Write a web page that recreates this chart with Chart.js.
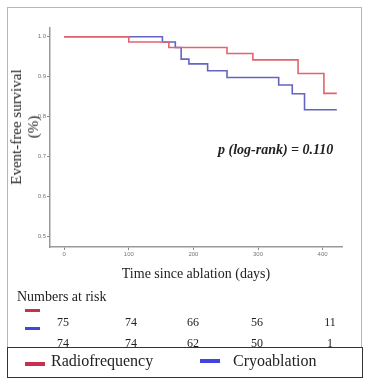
<!DOCTYPE html>
<html>
<head>
<meta charset="utf-8">
<script src="https://cdn.jsdelivr.net/npm/chart.js@4/dist/chart.umd.min.js"></script>
<style>
  body { margin: 0; background: #fff; width: 369px; height: 387px; position: relative; overflow: hidden; font-family: "Liberation Serif", "DejaVu Serif", serif; color: #222; }
  #frame { position: absolute; left: 7px; top: 7px; width: 355px; height: 371px; border: 1.5px solid #9fbcdb; box-sizing: border-box; }
  #wrap { position: absolute; left: 6px; top: 8px; width: 356px; height: 282px; }
  .abs { position: absolute; white-space: nowrap; }
  #ytitle { left: 25px; top: 127px; font-size: 15px; line-height: 17px; text-align: center; transform: translate(-50%, -50%) rotate(-90deg); }
  #pval { left: 218px; top: 142px; font-size: 14px; font-style: italic; font-weight: bold; }
  #risk { left: 17px; top: 289px; font-size: 14px; }
  .num { font-size: 12px; transform: translate(-50%, -50%); }
  .dash { position: absolute; height: 3px; }
  #legend { position: absolute; left: 7px; top: 347px; width: 356px; height: 31px; border: 1.5px solid #333; box-sizing: border-box; background: #fff; }
  .leg { position: absolute; font-size: 16px; top: 4px; }
</style>
</head>
<body>
<div id="frame"></div>
<div id="wrap"><canvas id="km"></canvas></div>
<div class="abs" id="ytitle">Event-free survival<br>(%)</div>
<div class="abs" id="pval">p (log-rank) = 0.110</div>
<div class="abs" id="risk">Numbers at risk</div>
<div class="dash" style="left:25px;top:309px;width:15px;background:#c9304e"></div>
<div class="dash" style="left:25px;top:327px;width:15px;background:#4343e0"></div>
<div id="riskRows"></div>
<div id="legend">
  <div class="dash" style="left:17px;top:14px;width:20px;height:4px;background:#c9304e"></div>
  <div class="leg" style="left:43px">Radiofrequency</div>
  <div class="dash" style="left:192px;top:11px;width:20px;height:4px;background:#4343e0"></div>
  <div class="leg" style="left:225px">Cryoablation</div>
</div>
<script>
// Kaplan-Meier steps: time of drop (days) and survival after it
const rfTimes = [0, 100, 162, 252, 292, 362, 402, 422];
const rfSurv = [1.0, 0.987, 0.973, 0.958, 0.942, 0.908, 0.858, 0.858];
const cryoTimes = [0, 152, 172, 181, 193, 222, 252, 332, 353, 372, 422];
const cryoSurv = [1.0, 0.987, 0.973, 0.944, 0.932, 0.915, 0.898, 0.879, 0.857, 0.817, 0.817];

const xTicks = [0, 100, 200, 300, 400];
const yTicks = [0.5, 0.6, 0.7, 0.8, 0.9, 1.0];

const riskRF = [75, 74, 66, 56, 11];
const riskCryo = [74, 74, 62, 50, 1];
const riskCols = [63, 131, 193, 257, 330];

function pts(t, s) {
  return t.map((v, i) => ({ x: v, y: s[i] }));
}

const rows = document.getElementById("riskRows");
[[riskRF, 322], [riskCryo, 343]].forEach(([vals, top]) => {
  vals.forEach((v, i) => {
    const d = document.createElement("div");
    d.className = "abs num";
    d.style.left = riskCols[i] + "px";
    d.style.top = top + "px";
    d.textContent = v;
    rows.appendChild(d);
  });
});

const tickFont = { family: "Liberation Sans", size: 6 };

new Chart(document.getElementById("km"), {
  type: "line",
  data: {
    datasets: [
      { label: "Radiofrequency", data: pts(rfTimes, rfSurv), borderColor: "#e2646f", borderWidth: 1.6, stepped: true, pointRadius: 0 },
      { label: "Cryoablation", data: pts(cryoTimes, cryoSurv), borderColor: "#6464c2", borderWidth: 1.6, stepped: true, pointRadius: 0 },
    ],
  },
  options: {
    responsive: true,
    maintainAspectRatio: false,
    animation: false,
    layout: { padding: { left: 0, top: 20, right: 20, bottom: 0 } },
    plugins: { legend: { display: false }, tooltip: { enabled: false } },
    scales: {
      x: {
        type: "linear",
        min: -22,
        max: 430,
        afterBuildTicks: (s) => { s.ticks = xTicks.map((v) => ({ value: v })); },
        afterFit: (s) => { s.height = 43; },
        grid: { drawOnChartArea: false, tickLength: 3, color: "#888" },
        border: { color: "#999", width: 1.5 },
        ticks: { font: tickFont, color: "#777", padding: 1, maxRotation: 0 },
        title: { display: true, text: "Time since ablation (days)", color: "#222", font: { family: "Liberation Serif", size: 14 }, padding: { top: 4, bottom: 7 } },
      },
      y: {
        min: 0.473,
        max: 1.022,
        afterBuildTicks: (s) => { s.ticks = yTicks.map((v) => ({ value: v })); },
        afterFit: (s) => { s.width = 44; },
        grid: { drawOnChartArea: false, tickLength: 3, color: "#888" },
        border: { color: "#999", width: 1.5 },
        ticks: { font: tickFont, color: "#777", padding: 1, callback: (v) => v.toFixed(1) },
      },
    },
  },
});
</script>
</body>
</html>
